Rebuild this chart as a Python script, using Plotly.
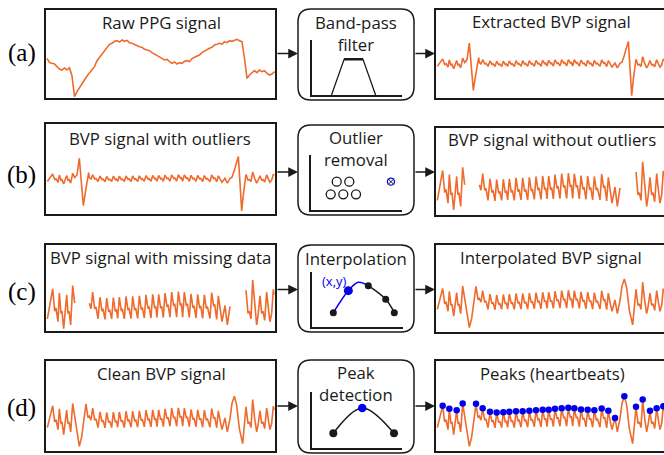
import plotly.graph_objects as go

W, H = 664, 455
ORANGE = "#EE6B2D"
BLUE = "#0000EE"
INK = "#1a1a1a"
FONT = "Open Sans"
TS = 16.8

# ---------------- data ----------------
raw_ppg = [125, 112, 110, 108, 100, 93, 90, 96, 90, 97, 72, 10, 25, 38, 50, 60, 72, 82, 92, 100,
           118, 128, 140, 148, 158, 167, 170, 176, 178, 174, 180, 176, 179, 172, 170, 166, 164, 160,
           158, 152, 150, 148, 142, 138, 135, 130, 125, 120, 122, 115, 110, 114, 108, 112, 110, 116,
           118, 115, 124, 128, 132, 135, 142, 147, 150, 155, 158, 165, 167, 170, 168, 175, 172, 178,
           176, 180, 182, 178, 175, 125, 65, 75, 82, 88, 82, 90, 85, 88, 80, 75, 78, 85]

clean_t = [52, 68, 74, 78, 84, 88, 93, 96, 101, 110, 114, 117, 122, 128, 134, 141, 148, 155, 161,
           168, 174, 178, 183, 188, 194, 198, 204,
           210, 216, 219, 225, 230, 236, 239, 245, 250, 256, 259, 263, 268, 274, 277, 283,
           288, 294, 297, 303, 308, 314, 317, 323, 328, 334, 337, 343, 348, 354, 357, 363,
           368, 374, 377, 381, 386, 392, 395, 400, 405, 411, 414, 420, 425, 431, 434, 440,
           445, 451, 454, 458, 463, 469, 472, 478, 483, 489, 492, 498, 503, 509, 512, 518,
           523, 529, 532, 540, 545, 551, 554, 560, 565, 571, 576,
           585, 592, 600, 606, 613, 620, 628, 638, 643, 648, 654, 658, 663,
           668, 674, 680, 684, 690, 695, 699, 704, 710, 716, 720, 725, 730, 732]
clean_v = [73, 138, 90, 97, 67, 129, 85, 90, 52, 125, 85, 90, 60, 145, 107, 55, 17, 45, 95,
           144, 103, 107, 95, 131, 95, 99, 73,
           120, 90, 95, 72, 118, 88, 93, 73, 119, 89, 94, 74, 120, 90, 95, 73,
           122, 92, 97, 74, 122, 92, 97, 74, 123, 93, 98, 75, 125, 95, 100, 75,
           126, 96, 101, 76, 126, 96, 101, 76, 129, 99, 104, 77, 131, 101, 106, 77,
           132, 102, 107, 77, 131, 101, 106, 76, 127, 97, 102, 75, 126, 96, 101, 74,
           125, 95, 100, 74, 130, 100, 105, 72, 123, 90, 67,
           102, 60, 100, 145, 167, 140, 70, 25, 80, 135, 85, 90, 73,
           157, 100, 60, 80, 123, 85, 90, 70, 131, 90, 67, 85, 137, 125]

peak_t = [68, 88, 110, 128, 168, 188, 210, 230, 250, 268, 288, 308, 328, 348, 368, 386, 405, 425,
          445, 463, 483, 503, 523, 545, 565, 585, 613, 648, 668, 690, 710, 730]
peak_v = [138, 129, 125, 145, 144, 131, 120, 118, 119, 120, 122, 122, 123, 125, 126, 126, 129, 131,
          132, 131, 127, 126, 125, 130, 123, 102, 167, 135, 157, 123, 131, 137]

# outlier segments present in the extracted BVP signal
out1_t = [141, 148, 154, 160, 166, 172, 176]
out1_v = [130, 275, 60, -135, -20, 90, 150]
out2_t = [606, 613, 619, 625, 630, 635, 640, 645]
out2_v = [110, 170, 230, 290, 60, -181, -40, 90]
gap1 = (138, 177)
gap2 = (603, 646)

# icons
filt_f = [2.2, 3.6, 5.7, 7.1]
filt_g = [0, 1, 1, 0]
clus_x = [2.86, 4.24, 2.2, 3.58, 4.98]
clus_y = [5.15, 5.15, 2.85, 2.85, 2.85]
outl_x = [8.82]
outl_y = [5.15]
interp_kx = [2.36, 6.18, 8.08, 9.02]
interp_ky = [2.55, 7.45, 4.98, 2.55]
interp_px = [4.0]
interp_py = [6.55]
interp_curve_x = [2.36, 4.0, 5.09, 6.18]
interp_curve_y = [2.55, 6.55, 8.07, 7.45]
known_curve_x = [6.18, 8.08, 9.02]
known_curve_y = [7.45, 4.98, 2.55]
peak_kx = [2.35, 9.14]
peak_ky = [2.54, 2.54]
peak_px = [5.59]
peak_py = [7.08]

# ---------------- helpers ----------------
def X(px):
    return px / W

def Y(py):
    return 1 - py / H

fig = go.Figure()
layout = dict(width=W, height=H, margin=dict(l=0, r=0, t=0, b=0), autosize=False,
              paper_bgcolor="white", plot_bgcolor="rgba(0,0,0,0)", showlegend=False)
n_axes = [0]


def add_axes(x0, x1, y0, y1, xr, yr, L=False):
    n_axes[0] += 1
    n = n_axes[0]
    sfx = "" if n == 1 else str(n)
    common = dict(showgrid=False, zeroline=False, showticklabels=False, ticks="", fixedrange=True)
    if L:
        common.update(showline=True, linewidth=2, linecolor=INK, mirror=False)
    else:
        common.update(visible=False)
    layout["xaxis" + sfx] = dict(domain=[X(x0), min(X(x1), 1)], range=xr, anchor="y" + sfx, **common)
    layout["yaxis" + sfx] = dict(domain=[Y(y1), Y(y0)], range=yr, anchor="x" + sfx, **common)
    return "x" + sfx, "y" + sfx


def place(vmin, vmax, fb, ft):
    span = (vmax - vmin) / (ft - fb)
    lo = vmin - fb * span
    return [lo, lo + span]


def line(ax, xs, ys, color=ORANGE, width=1.6, shape="linear"):
    fig.add_trace(go.Scatter(x=xs, y=ys, xaxis=ax[0], yaxis=ax[1], mode="lines",
                             line=dict(color=color, width=width, shape=shape),
                             hoverinfo="skip", connectgaps=False))


def dots(ax, xs, ys, color, size, symbol="circle", lw=0):
    fig.add_trace(go.Scatter(x=xs, y=ys, xaxis=ax[0], yaxis=ax[1], mode="markers",
                             marker=dict(color=color, size=size, symbol=symbol,
                                         line=dict(color=color, width=lw)),
                             hoverinfo="skip"))


# derived signals
def seg(lo, hi):
    return [(t, v) for t, v in zip(clean_t, clean_v) if lo <= t <= hi]

extr = seg(-1, gap1[0]) + list(zip(out1_t, out1_v)) + seg(gap1[1], gap2[0]) + \
       list(zip(out2_t, out2_v)) + seg(gap2[1], 10000)
extr_t = [p[0] for p in extr]
extr_v = [p[1] for p in extr]
miss = seg(-1, gap1[0]) + [(None, None)] + seg(gap1[1], gap2[0]) + [(None, None)] + seg(gap2[1], 10000)
miss_t = [p[0] for p in miss]
miss_v = [p[1] for p in miss]
mv = [v for v in miss_v if v is not None]

shapes = []
annots = []

LX = (45, 276)
RX = (435, 667)
MX = (298, 414)
rows = {
    "a": dict(l=(9, 99), m=(9, 100), r=(9, 99), arrow=53.5),
    "b": dict(l=(123, 215), m=(125, 215), r=(127, 216), arrow=172),
    "c": dict(l=(244, 332), m=(245, 332), r=(244, 333), arrow=289.5),
    "d": dict(l=(360, 452), m=(360, 453), r=(360, 452), arrow=406),
}


def box(x0, x1, y0, y1):
    shapes.append(dict(type="rect", xref="paper", yref="paper", x0=X(x0), x1=X(x1),
                       y0=Y(y1), y1=Y(y0), line=dict(color=INK, width=2)))


def rbox(x0, x1, y0, y1, r=13):
    p = (f"M {X(x0 + r)} {Y(y0)} L {X(x1 - r)} {Y(y0)} Q {X(x1)} {Y(y0)} {X(x1)} {Y(y0 + r)} "
         f"L {X(x1)} {Y(y1 - r)} Q {X(x1)} {Y(y1)} {X(x1 - r)} {Y(y1)} "
         f"L {X(x0 + r)} {Y(y1)} Q {X(x0)} {Y(y1)} {X(x0)} {Y(y1 - r)} "
         f"L {X(x0)} {Y(y0 + r)} Q {X(x0)} {Y(y0)} {X(x0 + r)} {Y(y0)} Z")
    shapes.append(dict(type="path", xref="paper", yref="paper", path=p,
                       line=dict(color=INK, width=1.5)))


def text(px, py, s, size=TS, color=INK, family=FONT, yanchor="middle"):
    annots.append(dict(x=X(px), y=Y(py), xref="paper", yref="paper", text=s, showarrow=False,
                       xanchor="center", yanchor=yanchor, borderpad=0,
                       font=dict(size=size, color=color, family=family)))


def arrow(x0, x1, py):
    annots.append(dict(x=X(x1), y=Y(py), xref="paper", yref="paper", text="", showarrow=True,
                       ax=-(x1 - x0), ay=0, arrowhead=2, arrowsize=1.3, arrowwidth=1.5,
                       arrowcolor=INK, standoff=0))


for key, r in rows.items():
    box(LX[0], LX[1], *r["l"])
    box(RX[0], RX[1], *r["r"])
    rbox(MX[0], MX[1], *r["m"])
    arrow(LX[1], MX[0], r["arrow"])
    arrow(MX[1], RX[0], r["arrow"])

# labels
for s, py in [("(a)", 52.5), ("(b)", 175), ("(c)", 292), ("(d)", 408)]:
    text(21.5, py, s, size=25, color="black", family="Liberation Serif")

# ---- row a ----
ax = add_axes(LX[0], LX[1], 9, 99, [-0.8, 91.6], place(min(raw_ppg), max(raw_ppg), 0.026, 0.663))
line(ax, list(range(len(raw_ppg))), raw_ppg)
text(161, 22, "Raw PPG signal")

ax = add_axes(RX[0], RX[1], 9, 99, [45, 732], place(min(extr_v), max(extr_v), 0.037, 0.64))
line(ax, extr_t, extr_v)
text(551, 21.5, "Extracted BVP signal")

ax = add_axes(311.7, 401.7, 40, 95, [0, 10], [0, 1.54], L=True)
line(ax, filt_f, filt_g, color=INK, width=1.3)
line(ax, filt_f[1:3], filt_g[1:3], color=INK, width=2.5)
text(356, 9.5, "Band-pass<br>filter", yanchor="top")

# ---- row b ----
ax = add_axes(LX[0], LX[1], 123, 215, [45, 738], place(min(extr_v), max(extr_v), 0.044, 0.636))
line(ax, extr_t, extr_v)
text(160, 138.5, "BVP signal with outliers")

ax = add_axes(RX[0], RX[1], 127, 216, [45, 732], place(min(mv), max(mv), 0.067, 0.61))
line(ax, miss_t, miss_v)
text(552, 139, "BVP signal without outliers")

ax = add_axes(310.7, 401.7, 155, 210, [0, 10], [0, 10], L=True)
dots(ax, clus_x, clus_y, INK, 9, symbol="circle-open", lw=1.3)
dots(ax, outl_x, outl_y, BLUE, 7, symbol="circle-open", lw=1.3)
dots(ax, outl_x, outl_y, INK, 6, symbol="x-thin-open", lw=1.0)
text(356, 125, "Outlier<br>removal", yanchor="top")

# ---- row c ----
ax = add_axes(LX[0], LX[1], 244, 332, [45, 738], place(min(mv), max(mv), 0.038, 0.59))
line(ax, miss_t, miss_v)
text(160.5, 257.5, "BVP signal with missing data")

ax = add_axes(RX[0], RX[1], 244, 333, [45, 732], [0, 275])
line(ax, clean_t, clean_v)
text(551, 257, "Interpolated BVP signal")

ax = add_axes(311.7, 403.3, 271.7, 326.7, [0, 10], [0, 10], L=True)
line(ax, interp_curve_x, interp_curve_y, color=BLUE, width=1.5, shape="spline")
line(ax, known_curve_x, known_curve_y, color=INK, width=1.5, shape="spline")
dots(ax, interp_kx, interp_ky, INK, 7)
dots(ax, interp_px, interp_py, BLUE, 9)
text(356, 258, "Interpolation")
text(334, 281, "(x,y)", size=13, color=BLUE)

# ---- row d ----
ax = add_axes(LX[0], LX[1], 360, 452, [45, 738], [0, 275])
line(ax, clean_t, clean_v)
text(161, 373.5, "Clean BVP signal")

ax = add_axes(RX[0], RX[1], 360, 452, [45, 732], [0, 275])
line(ax, clean_t, clean_v)
dots(ax, peak_t, peak_v, BLUE, 6.5)
text(552, 373.5, "Peaks (heartbeats)")

ax = add_axes(312.3, 401.7, 391.7, 447.5, [0, 10], [0, 10], L=True)
line(ax, [peak_kx[0], peak_px[0], peak_kx[1]], [peak_ky[0], peak_py[0], peak_ky[1]],
     color=INK, width=1.5, shape="spline")
dots(ax, peak_kx, peak_ky, INK, 8)
dots(ax, peak_px, peak_py, BLUE, 8.5)
text(356, 359.5, "Peak<br>detection", yanchor="top")

layout["shapes"] = shapes
layout["annotations"] = annots
fig.update_layout(**layout)
fig.write_html("out.html", config={"displayModeBar": False, "staticPlot": True},
               post_script="document.body.style.margin='0px';document.body.style.padding='0px';")
